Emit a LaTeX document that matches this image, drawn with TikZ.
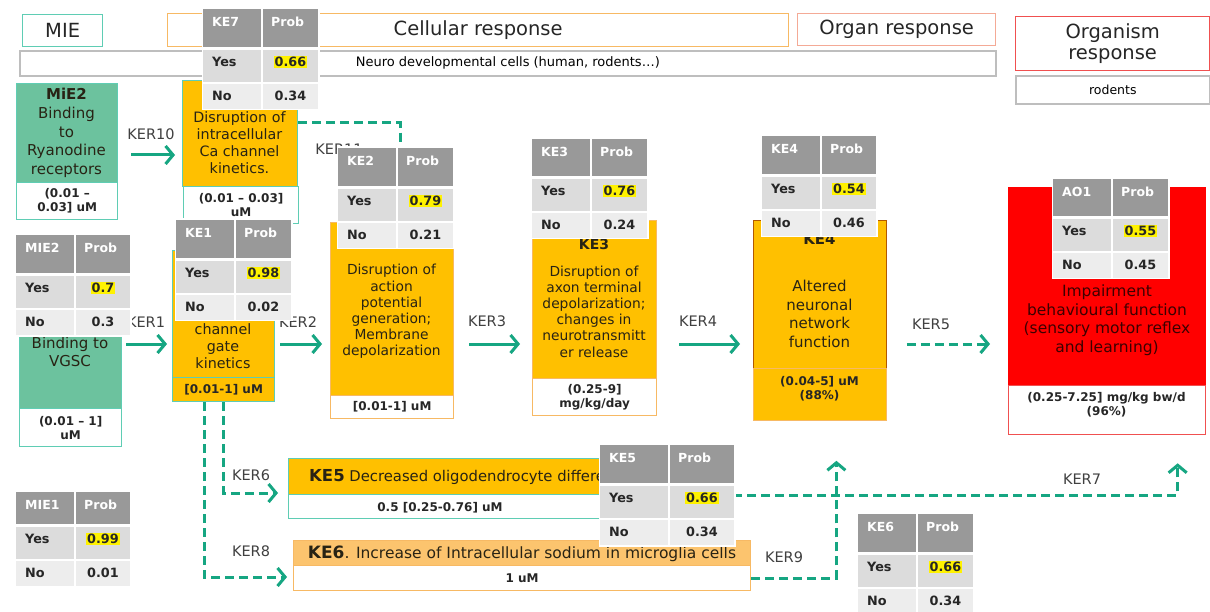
\documentclass[tikz,border=0pt]{standalone}
\usepackage{fontspec}
\setmainfont{DejaVu Sans}
\usetikzlibrary{arrows.meta}

\definecolor{tealline}{RGB}{95,205,180}
\definecolor{tealarrow}{RGB}{22,166,130}
\definecolor{greenfill}{RGB}{108,194,158}
\definecolor{ambar}{RGB}{255,192,0}
\definecolor{peach}{RGB}{252,196,110}
\definecolor{orangeline}{RGB}{247,185,100}
\definecolor{salmonline}{RGB}{244,170,150}
\definecolor{redline}{RGB}{240,80,80}
\definecolor{alarm}{RGB}{255,0,0}
\definecolor{tabhead}{RGB}{153,153,153}
\definecolor{tabyes}{RGB}{220,220,220}
\definecolor{tabno}{RGB}{237,237,237}
\definecolor{labelgray}{RGB}{64,64,64}
\definecolor{boxtext}{RGB}{40,35,20}
\definecolor{darkred}{RGB}{60,0,0}
\definecolor{rowgray}{RGB}{190,190,190}

\newcommand{\setfs}[2]{\fontsize{#1}{#2}\selectfont}

\tikzset{
  panel/.style={draw, line width=1.3pt, inner sep=0pt, anchor=north west},
  headtxt/.style={font=\setfs{19.5}{21}, text=black!85},
  bodytxt/.style={align=center, inner sep=0pt, text=boxtext},
  valtxt/.style={align=center, inner sep=0pt, font=\setfs{12}{14}\bfseries, text=black!85},
  kerlbl/.style={inner sep=0pt, font=\setfs{14.5}{16}, text=labelgray},
  solidarr/.style={draw=tealarrow, line width=3pt, -{Straight Barb[length=7.5pt,width=18pt]}},
  dasharr/.style={solidarr, dash pattern=on 9pt off 5pt},
  tabh/.style={inner sep=0pt, font=\setfs{12.5}{14}\bfseries, text=white},
  tabc/.style={inner sep=0pt, font=\setfs{12.8}{14}\bfseries, text=black!85},
}

% probability table: name, top-left, width, header height, label, yes value, no value
\newcommand{\probtab}[7]{%
  \begin{scope}[shift={#2}]
    \pgfmathsetmacro\tcol{round(0.515*#3)}
    \fill[white] (-1.5,-1.5) rectangle (#3+1.5,#4+63.5);
    \fill[tabhead] (0,0) rectangle (\tcol-1,#4);
    \fill[tabhead] (\tcol+1,0) rectangle (#3,#4);
    \fill[tabyes] (0,#4+3) rectangle (\tcol-1,#4+35);
    \fill[tabyes] (\tcol+1,#4+3) rectangle (#3,#4+35);
    \fill[tabno] (0,#4+37) rectangle (\tcol-1,#4+62);
    \fill[tabno] (\tcol+1,#4+37) rectangle (#3,#4+62);
    \node[tabh, anchor=west] (#1h) at (9,13) {#5};
    \node[tabh, anchor=west] (#1p) at (\tcol+9,13) {Prob};
    \node[tabc, anchor=west] (#1y) at (9,#4+15) {Yes};
    \node[tabc, fill=yellow, inner sep=0.8pt] (#1yv) at ({(\tcol+1+#3)/2},#4+15) {#6};
    \node[tabc, anchor=west] (#1n) at (9,#4+49) {No};
    \node[tabc] (#1nv) at ({(\tcol+1+#3)/2},#4+49) {#7};
  \end{scope}}

\begin{document}
\begin{tikzpicture}[x=1pt,y=-1pt]
\path[use as bounding box, fill=white] (0,0) rectangle (1210,612);

% ---- column headers
\node[panel, draw=tealline, minimum width=80pt, minimum height=32pt, headtxt] (mie) at (22,14) {MIE};
\node[panel, draw=orangeline, minimum width=621pt, minimum height=33pt, headtxt] (cellresp) at (167,13) {Cellular response};
\node[panel, draw=salmonline, minimum width=198pt, minimum height=32pt, headtxt] (organresp) at (797,13) {Organ response};
\node[panel, draw=redline, minimum width=194pt, minimum height=54pt, headtxt, align=center] (orgresp) at (1015,16) {Organism\\response};
\node[panel, draw=rowgray, line width=1.6pt, minimum width=976pt, minimum height=25pt, font=\setfs{13}{15}] (cellrow) at (19,50) {Neuro developmental cells (human, rodents…)};
\node[panel, draw=rowgray, line width=1.6pt, minimum width=194pt, minimum height=28pt, font=\setfs{12.5}{14}] (rodrow) at (1015,75) {rodents};

% ---- ryanodine branch
\node[panel, draw=tealline, fill=greenfill, minimum width=101pt, minimum height=99pt] (ry) at (16,83) {};
\node[bodytxt, font=\setfs{15}{18.7}] (ryt) at (66.5,133) {\textbf{MiE2}\\Binding\\to\\Ryanodine\\receptors};
\node[panel, draw=tealline, fill=white, minimum width=101pt, minimum height=37pt, valtxt] (ryc) at (16,182) {(0.01 –\\0.03] uM};

\node[panel, draw=tealline, fill=ambar, minimum width=115pt, minimum height=106pt] (ke7) at (182,80) {};
\node[bodytxt, font=\setfs{14.3}{17}] (ke7t) at (239.5,143) {Disruption of\\intracellular\\Ca channel\\kinetics.};
\node[panel, draw=tealline, fill=white, minimum width=115pt, minimum height=37pt, valtxt] (ke7c) at (183,186) {(0.01 – 0.03]\\uM};

% ---- main chain
\node[panel, draw=tealline, fill=greenfill, minimum width=102pt, minimum height=150pt] (vg) at (19,258) {};
\node[bodytxt, font=\setfs{15}{18.5}] (vgt) at (70,352) {Binding to\\VGSC};
\node[panel, draw=tealline, fill=white, minimum width=102pt, minimum height=38pt, valtxt] (vgc) at (19,408) {(0.01 – 1]\\uM};

\node[panel, draw=tealline, fill=ambar, minimum width=102pt, minimum height=127pt] (ke1) at (172,250) {};
\node[bodytxt, font=\setfs{14.3}{17}] (ke1t) at (223,346) {channel\\gate\\kinetics};
\node[panel, draw=tealline, fill=ambar, minimum width=102pt, minimum height=24pt, valtxt] (ke1c) at (172,377) {[0.01-1] uM};

\node[panel, draw=orangeline, fill=ambar, minimum width=123pt, minimum height=173pt] (ke2) at (330,222) {};
\node[bodytxt, font=\setfs{13.8}{16.2}] (ke2t) at (391.5,311.5) {Disruption of\\action\\potential\\generation;\\Membrane\\depolarization};
\node[panel, draw=orangeline, fill=white, minimum width=123pt, minimum height=23pt, valtxt] (ke2c) at (330,395) {[0.01-1] uM};

\node[panel, draw=orangeline, fill=ambar, minimum width=124pt, minimum height=158pt] (ke3) at (532,220) {};
\node[bodytxt, font=\setfs{14}{17}\bfseries] (ke3h) at (594,244) {KE3};
\node[bodytxt, font=\setfs{13.8}{16.2}] (ke3t) at (594,311.5) {Disruption of\\axon terminal\\depolarization;\\changes in\\neurotransmitt\\er release};
\node[panel, draw=orangeline, fill=white, minimum width=124pt, minimum height=37pt, valtxt] (ke3c) at (532,378) {(0.25-9]\\mg/kg/day};

\node[panel, draw=orange!70!black, line width=0.8pt, fill=ambar, minimum width=133pt, minimum height=148pt] (ke4) at (753,220) {};
\node[bodytxt, font=\setfs{15}{19}\bfseries] (ke4h) at (819.5,239) {KE4};
\node[bodytxt, font=\setfs{15}{18.8}] (ke4t) at (819.5,314) {Altered\\neuronal\\network\\function};
\node[panel, draw=orangeline, line width=0.8pt, fill=ambar, minimum width=133pt, minimum height=52pt] (ke4c) at (753,368) {};
\node[valtxt] (ke4v) at (819.5,388.5) {(0.04-5] uM\\(88\%)};

\node[panel, draw=alarm, fill=alarm, minimum width=197pt, minimum height=198pt] (ao) at (1008,187) {};
\node[bodytxt, text=darkred, font=\setfs{15.5}{18.5}] (aot) at (1107,320) {Impairment\\behavioural function\\(sensory motor reflex\\and learning)};
\node[panel, draw=redline, fill=white, minimum width=197pt, minimum height=49pt] (aoc) at (1008,385) {};
\node[valtxt] (aov) at (1106.5,404.5) {(0.25-7.25] mg/kg bw/d\\(96\%)};

% ---- side branches
\node[panel, draw=tealline, fill=ambar, minimum width=332pt, minimum height=36pt] (ke5) at (288,458) {};
\begin{scope}
  \clip (ke5.north west) rectangle (ke5.south east);
  \node[bodytxt, anchor=west, font=\setfs{14.8}{17}] (ke5t) at (309,477) {{\setfs{16.5}{18}\bfseries KE5} Decreased oligodendrocyte differentiation};
\end{scope}
\node[panel, draw=tealline, fill=white, minimum width=332pt, minimum height=24pt] (ke5c) at (288,494) {};
\node[valtxt] (ke5v) at (440,507.5) {0.5 [0.25-0.76] uM};

\node[panel, draw=orangeline, fill=peach, minimum width=457pt, minimum height=25pt] (ke6) at (293,540) {};
\node[bodytxt, font=\setfs{15.5}{17}] (ke6t) at (522,553.5) {{\setfs{17}{18}\bfseries KE6}. Increase of Intracellular sodium in microglia cells};
\node[panel, draw=orangeline, fill=white, minimum width=457pt, minimum height=25pt, valtxt] (ke6c) at (293,565) {1 uM};

% ---- relationship labels
\node[kerlbl] (l10) at (151,134) {KER10};
\node[kerlbl] (l11) at (339,149) {KER11};
\node[kerlbl] (l1) at (146,322) {KER1};
\node[kerlbl] (l2) at (298,322) {KER2};
\node[kerlbl] (l3) at (487,321) {KER3};
\node[kerlbl] (l4) at (698,321) {KER4};
\node[kerlbl] (l5) at (931,324) {KER5};
\node[kerlbl] (l6) at (251,475) {KER6};
\node[kerlbl] (l8) at (251,551) {KER8};
\node[kerlbl] (l9) at (784,557) {KER9};
\node[kerlbl] (l7) at (1082,479) {KER7};

% ---- relationships
\coordinate (row10) at (0,155);
\coordinate (row11) at (0,123);
\coordinate (mainrow) at (0,344);
\coordinate (row6) at (0,493);
\coordinate (row7) at (0,495);
\coordinate (row8) at (0,577);

\draw[solidarr, shorten <=13pt, shorten >=7pt] (ry.east |- row10) -- (ke7.west |- row10);
\draw[solidarr, shorten <=4pt, shorten >=5pt] (vg.east |- mainrow) -- (ke1.west |- mainrow);
\draw[solidarr, shorten <=5pt, shorten >=8pt] (ke1.east |- mainrow) -- (ke2.west |- mainrow);
\draw[solidarr, shorten <=15pt, shorten >=12pt] (ke2.east |- mainrow) -- (ke3.west |- mainrow);
\draw[solidarr, shorten <=22pt, shorten >=13pt] (ke3.east |- mainrow) -- (ke4.west |- mainrow);
\draw[dasharr, shorten <=20pt, shorten >=18pt] (ke4.east |- mainrow) -- (ao.west |- mainrow);

\draw[dasharr] (ke7.east |- row11) -| ([xshift=8.5pt]ke2.north);
\draw[dasharr, shorten >=10pt] (ke1c.south) |- (ke5.west |- row6);
\draw[dasharr, shorten >=6pt] ([xshift=-19.5pt]ke1c.south) |- (ke6.west |- row8);
\draw[dasharr, shorten >=40pt] (ke6c.east) -| ([xshift=16.5pt]ke4c.south);
\draw[dasharr, shorten >=28pt] (ke5c.north east |- row7) -| ([xshift=70.5pt]aoc.south);

% ---- probability tables
\probtab{tk7}{(203,9)}{115}{38}{KE7}{0.66}{0.34}
\probtab{tk2}{(338,148)}{115}{38}{KE2}{0.79}{0.21}
\probtab{tk3}{(532,139)}{115}{37}{KE3}{0.76}{0.24}
\probtab{tk4}{(762,136)}{114}{38}{KE4}{0.54}{0.46}
\probtab{tm2}{(16,235)}{114}{38}{MIE2}{0.7}{0.3}
\probtab{tk1}{(176,220)}{115}{38}{KE1}{0.98}{0.02}
\probtab{tao}{(1053,179)}{115}{37}{AO1}{0.55}{0.45}
\probtab{tk5}{(600,445)}{134}{38}{KE5}{0.66}{0.34}
\probtab{tk6}{(858,514)}{115}{38}{KE6}{0.66}{0.34}
\probtab{tm1}{(16,492)}{114}{32}{MIE1}{0.99}{0.01}
\end{tikzpicture}
\end{document}
